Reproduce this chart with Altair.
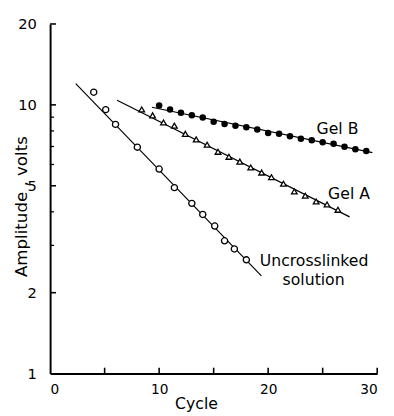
import altair as alt
import pandas as pd

# ---- data ----
unx_cycle = [4.0, 5.1, 6.0, 8.0, 10.0, 11.4, 13.0, 14.0, 15.1, 16.0, 16.9, 18.0]
unx_amp = [11.15, 9.6, 8.46, 6.96, 5.77, 4.92, 4.30, 3.91, 3.54, 3.12, 2.91, 2.65]

gelA_cycle = [8.4, 9.4, 10.4, 11.4, 12.4, 13.4, 14.4, 15.4, 16.4, 17.4, 18.4, 19.4,
              20.3, 21.4, 22.4, 23.4, 24.4, 25.4, 26.4]
gelA_amp = [9.61, 9.14, 8.60, 8.37, 7.80, 7.44, 7.11, 6.69, 6.41, 6.15, 5.85, 5.60,
            5.38, 5.09, 4.76, 4.59, 4.37, 4.26, 4.07]

gelB_cycle = list(range(10, 30))
gelB_amp = [9.94, 9.61, 9.35, 9.14, 8.97, 8.65, 8.48, 8.37, 8.25, 8.09, 7.85, 7.80,
            7.65, 7.48, 7.38, 7.26, 7.17, 6.98, 6.84, 6.73]

# fitted lines (end points)
fit_series = ["Uncrosslinked", "Uncrosslinked", "Gel A", "Gel A", "Gel B", "Gel B"]
fit_cycle = [2.35, 19.38, 6.14, 27.47, 9.34, 29.56]
fit_amp = [12.0, 2.31, 10.4, 3.83, 9.8, 6.64]

# curve labels
label_text = ["Gel B", "Gel A", "Uncrosslinked"]
label_cycle = [24.44, 25.5, 19.23]
label_amp = [7.78, 4.48, 2.52]
label2_text = ["solution"]
label2_cycle = [24.17]
label2_amp = [2.14]

x_labels = [0, 10, 20, 30]
y_labels = [1, 2, 5, 10, 20]
x_ticks = [5, 10, 15, 20, 25, 30]
y_major_ticks = [2, 5, 10, 20]
y_minor_ticks = [3, 4, 6, 7, 8, 9]

W, H = 334, 357
FONT = "DejaVu Sans"
INK = "#000000"

xs = alt.Scale(domain=[0, 30], nice=False, zero=False)
ys = alt.Scale(type="log", domain=[1, 20], nice=False)

unx = pd.DataFrame({"cycle": unx_cycle, "amp": unx_amp})
ga = pd.DataFrame({"cycle": gelA_cycle, "amp": gelA_amp})
gb = pd.DataFrame({"cycle": gelB_cycle, "amp": gelB_amp})
fits = pd.DataFrame({"series": fit_series, "cycle": fit_cycle, "amp": fit_amp})
labs = pd.DataFrame({"text": label_text, "cycle": label_cycle, "amp": label_amp})
labs2 = pd.DataFrame({"text": label2_text, "cycle": label2_cycle, "amp": label2_amp})

x_axis = alt.Axis(values=x_labels, format="d", grid=False, ticks=False, tickSize=0,
                  domain=True, domainColor=INK, domainWidth=2, domainOpacity=1,
                  labelFont=FONT,
                  labelFontSize=14, labelColor="black", labelPadding=9,
                  title="Cycle", titleFont=FONT, titleFontSize=16,
                  titleFontWeight="normal", titleColor="black",
                  titleX=149, titleY=36, titleBaseline="alphabetic",
                  titleAlign="center")
y_axis = alt.Axis(values=y_labels, format="d", grid=False, ticks=False, tickSize=0,
                  domain=True, domainColor=INK, domainWidth=2, domainOpacity=1,
                  labelFont=FONT,
                  labelFontSize=15, labelColor="black", labelPadding=14,
                  title="Amplitude , volts", titleFont=FONT, titleFontSize=17,
                  titleFontWeight="normal", titleColor="black",
                  titleX=-24, titleY=186, titleAngle=-90,
                  titleBaseline="alphabetic", titleAlign="center")

X = alt.X("cycle:Q", scale=xs, axis=x_axis)
Y = alt.Y("amp:Q", scale=ys, axis=y_axis)

lines = alt.Chart(fits).mark_line(color="black", strokeWidth=1.2).encode(
    x=X, y=Y, detail="series:N")

circ = alt.Chart(unx).mark_point(shape="circle", filled=False, color="black",
                                 fill="white", fillOpacity=1,
                                 strokeWidth=1.3, size=40, opacity=1).encode(x=X, y=Y)
tri = alt.Chart(ga).mark_point(shape="triangle-up", filled=False, color="black",
                               fill="white", fillOpacity=1,
                               strokeWidth=1.3, size=34, opacity=1).encode(x=X, y=Y)
dots = alt.Chart(gb).mark_circle(color="black", size=44, opacity=1).encode(x=X, y=Y)

texts = alt.Chart(labs).mark_text(font=FONT, fontSize=16, color="black",
                                  baseline="alphabetic", align="left").encode(
    x=X, y=Y, text="text:N")
texts2 = alt.Chart(labs2).mark_text(font=FONT, fontSize=16, color="black",
                                    baseline="alphabetic", align="center").encode(
    x=X, y=Y, text="text:N")

# inward-pointing ticks
ymaj = alt.Chart(pd.DataFrame({"amp": y_major_ticks})).mark_rule(
    color=INK, strokeWidth=1.6, opacity=1).encode(
    y=Y, x=alt.value(0), x2=alt.value(6))
ymin = alt.Chart(pd.DataFrame({"amp": y_minor_ticks})).mark_rule(
    color=INK, strokeWidth=1.3, opacity=1).encode(
    y=Y, x=alt.value(0), x2=alt.value(4))
xt = alt.Chart(pd.DataFrame({"cycle": x_ticks})).mark_rule(
    color=INK, strokeWidth=1.6, opacity=1).encode(
    x=X, y=alt.value(H), y2=alt.value(H - 6))

chart = alt.layer(lines, circ, tri, dots, texts, texts2, ymaj, ymin, xt).properties(
    width=W, height=H,
    autosize=alt.AutoSizeParams(type="none"),
    padding={"left": 43, "top": 12, "right": 9, "bottom": 39},
    background="white",
).configure_view(stroke=None)

chart.save("out.html", embed_options={"renderer": "svg", "actions": False})
